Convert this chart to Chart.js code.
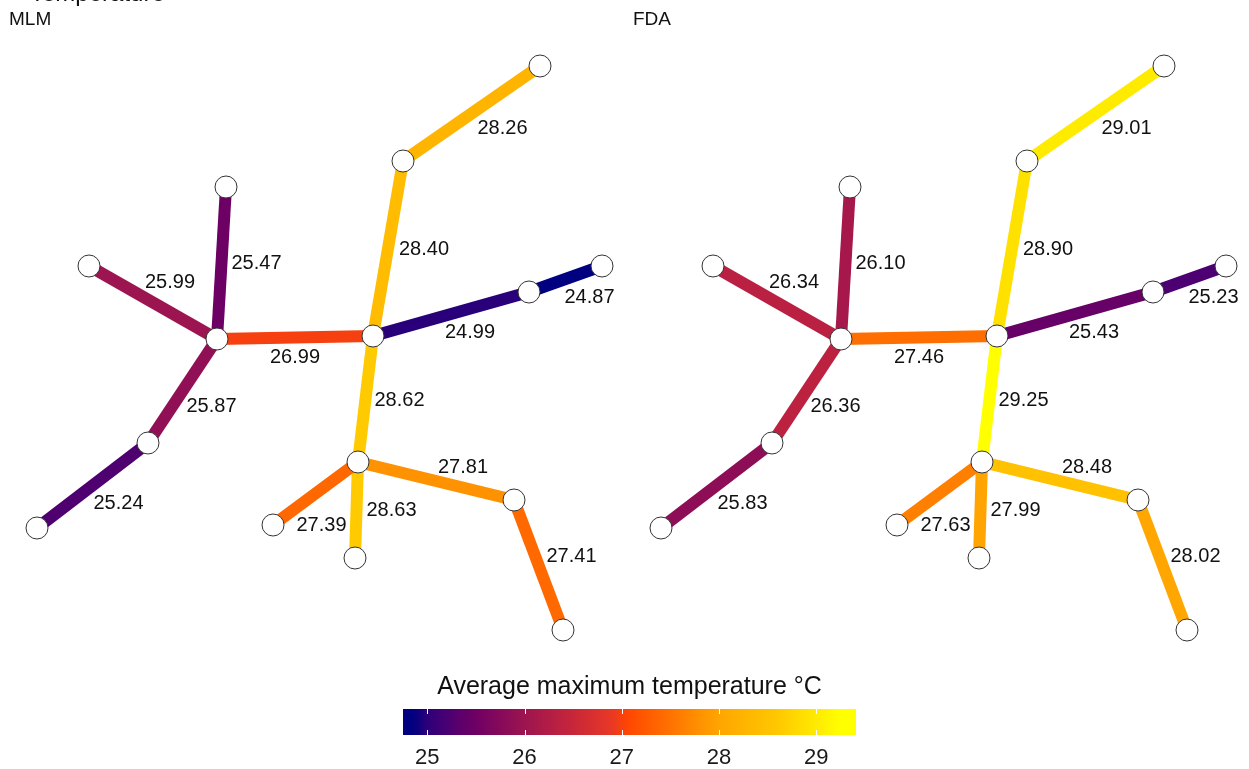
<!DOCTYPE html>
<html>
<head>
<meta charset="utf-8">
<script src="https://cdn.jsdelivr.net/npm/chart.js@4.4.1/dist/chart.umd.min.js"></script>
<style>
  html, body { margin: 0; padding: 0; background: #fff; }
  body { width: 1249px; height: 769px; position: relative; overflow: hidden; }
  canvas { position: absolute; }
</style>
</head>
<body>
<canvas id="mlmChart" width="624" height="660" style="left:0;top:0"></canvas>
<canvas id="fdaChart" width="624" height="660" style="left:624px;top:0"></canvas>
<canvas id="barChart" width="500" height="104" style="left:380px;top:665px"></canvas>
<script>
// network layout (same for both panels), layout units
var nodeX = [5.40, 4.03, 3.73, 2.17, 2.26, 0.89, 1.48, 0.37, 5.29, 6.02, 3.58, 2.73, 3.55, 5.14, 5.63];
var nodeY = [5.94, 4.99, 3.24, 3.21, 4.73, 3.94, 2.17, 1.32, 3.68, 3.94, 1.98, 1.35, 1.02, 1.60, 0.30];

// edges as node index pairs
var edgeFrom = [0, 1, 2, 8, 2, 3, 3, 3, 6, 2, 10, 10, 10, 13];
var edgeTo   = [1, 2, 8, 9, 3, 4, 5, 6, 7, 10, 11, 12, 13, 14];

// average maximum temperature per edge
var mlmTemp = [28.26, 28.40, 24.99, 24.87, 26.99, 25.47, 25.99, 25.87, 25.24, 28.62, 27.39, 28.63, 27.81, 27.41];
var fdaTemp = [29.01, 28.90, 25.43, 25.23, 27.46, 26.10, 26.34, 26.36, 25.83, 29.25, 27.63, 27.99, 28.48, 28.02];

// colour bar
var colorTicks = [25, 26, 27, 28, 29];
var colorMin = 24.75;
var colorMax = 29.41;

// ---- styling ----
var FONT = '"Liberation Sans", Arial, sans-serif';
Chart.defaults.font.family = FONT;

var paletteStops = [
  [24.87, [0, 0, 128]],
  [25.00, [46, 0, 121]],
  [25.25, [80, 0, 112]],
  [25.50, [112, 0, 100]],
  [26.00, [157, 20, 80]],
  [26.50, [200, 38, 58]],
  [26.90, [232, 56, 38]],
  [27.05, [255, 69, 0]],
  [28.00, [255, 165, 0]],
  [28.60, [255, 200, 0]],
  [29.25, [255, 255, 0]]
];

function tempColor(t) {
  if (t <= paletteStops[0][0]) return 'rgb(' + paletteStops[0][1].join(',') + ')';
  for (var i = 1; i < paletteStops.length; i++) {
    if (t <= paletteStops[i][0]) {
      var a = paletteStops[i - 1], b = paletteStops[i];
      var f = (t - a[0]) / (b[0] - a[0]);
      var c = a[1].map(function (v, k) { return Math.round(v + (b[1][k] - v) * f); });
      return 'rgb(' + c.join(',') + ')';
    }
  }
  return 'rgb(' + paletteStops[paletteStops.length - 1][1].join(',') + ')';
}

// label offset from edge midpoint, in pixels
var labelNudge = [[31, 15], [36, 1], [19, 18], [24, 18], [0, 20], [35, 0], [17, -20],
                  [29, 15], [26, 18], [34, 1], [6, 32], [35, 0], [27, -14], [33, -9]];

var edgeLabels = {
  id: 'edgeLabels',
  afterDatasetsDraw: function (chart, args, opts) {
    var ctx = chart.ctx, xs = chart.scales.x, ys = chart.scales.y;
    ctx.save();
    ctx.font = '20px ' + FONT;
    ctx.fillStyle = '#111';
    ctx.textAlign = 'center';
    ctx.textBaseline = 'middle';
    opts.temps.forEach(function (t, k) {
      var a = edgeFrom[k], b = edgeTo[k];
      var mx = (xs.getPixelForValue(nodeX[a]) + xs.getPixelForValue(nodeX[b])) / 2;
      var my = (ys.getPixelForValue(nodeY[a]) + ys.getPixelForValue(nodeY[b])) / 2;
      ctx.fillText(t.toFixed(2), mx + labelNudge[k][0], my + labelNudge[k][1]);
    });
    ctx.textAlign = 'left';
    ctx.textBaseline = 'alphabetic';
    ctx.font = '19px ' + FONT;
    ctx.fillText(opts.title, 9, 25);
    if (opts.topTitle) {
      ctx.font = '24px ' + FONT;
      ctx.fillText(opts.topTitle, 30, 1);
    }
    ctx.restore();
  }
};

function makeNetwork(id, temps, title, topTitle) {
  var datasets = [{
    label: 'nodes',
    data: nodeX.map(function (x, i) { return { x: x, y: nodeY[i] }; }),
    showLine: false,
    pointRadius: 11,
    pointHoverRadius: 11,
    pointBackgroundColor: '#ffffff',
    pointBorderColor: '#333333',
    pointBorderWidth: 1,
    order: 0
  }];
  temps.forEach(function (t, k) {
    datasets.push({
      label: 'edge ' + k,
      data: [{ x: nodeX[edgeFrom[k]], y: nodeY[edgeFrom[k]] },
             { x: nodeX[edgeTo[k]], y: nodeY[edgeTo[k]] }],
      showLine: true,
      borderColor: tempColor(t),
      borderWidth: 12,
      pointRadius: 0,
      order: 1
    });
  });

  new Chart(document.getElementById(id), {
    type: 'scatter',
    data: { datasets: datasets },
    options: {
      responsive: false,
      animation: false,
      devicePixelRatio: 1,
      layout: { padding: 0, autoPadding: false },
      scales: {
        x: { type: 'linear', min: 0, max: 6.24, display: false },
        y: { type: 'linear', min: 0, max: 6.60, display: false }
      },
      plugins: {
        legend: { display: false },
        tooltip: { enabled: false },
        edgeLabels: { temps: temps, title: title, topTitle: topTitle }
      }
    },
    plugins: [edgeLabels]
  });
}

makeNetwork('mlmChart', mlmTemp, 'MLM', 'Temperature');
makeNetwork('fdaChart', fdaTemp, 'FDA', null);

// white tick marks across the colour bar
var barTicks = {
  id: 'barTicks',
  afterDatasetsDraw: function (chart) {
    var ctx = chart.ctx, area = chart.chartArea, xs = chart.scales.x;
    ctx.save();
    ctx.strokeStyle = '#ffffff';
    ctx.lineWidth = 1;
    colorTicks.forEach(function (v) {
      var px = Math.round(xs.getPixelForValue(v)) + 0.5;
      ctx.beginPath();
      ctx.moveTo(px, area.top); ctx.lineTo(px, area.top + 5);
      ctx.moveTo(px, area.bottom - 5); ctx.lineTo(px, area.bottom);
      ctx.stroke();
    });
    ctx.restore();
  }
};

new Chart(document.getElementById('barChart'), {
  type: 'bar',
  data: {
    labels: [''],
    datasets: [{
      data: [[colorMin, colorMax]],
      backgroundColor: function (c) {
        var area = c.chart.chartArea;
        if (!area) return '#000080';
        var g = c.chart.ctx.createLinearGradient(area.left, 0, area.right, 0);
        for (var i = 0; i <= 60; i++) {
          var v = colorMin + (colorMax - colorMin) * i / 60;
          g.addColorStop(i / 60, tempColor(v));
        }
        return g;
      },
      borderWidth: 0,
      barPercentage: 1,
      categoryPercentage: 1
    }]
  },
  options: {
    indexAxis: 'y',
    responsive: false,
    animation: false,
    devicePixelRatio: 1,
    layout: { padding: { left: 23, right: 24, top: 0, bottom: 0 }, autoPadding: false },
    scales: {
      x: {
        type: 'linear', min: colorMin, max: colorMax,
        grid: { display: false, drawTicks: false },
        border: { display: false },
        afterBuildTicks: function (axis) { axis.ticks = colorTicks.map(function (v) { return { value: v }; }); },
        afterFit: function (axis) { axis.height = 34; },
        ticks: { font: { size: 22 }, color: '#1a1a1a', padding: 10 }
      },
      y: { display: false }
    },
    plugins: {
      legend: { display: false },
      tooltip: { enabled: false },
      title: {
        display: true,
        text: 'Average maximum temperature °C',
        font: { size: 25, weight: 'normal' },
        color: '#111',
        padding: { top: 7, bottom: 7 }
      }
    }
  },
  plugins: [barTicks]
});
</script>
</body>
</html>
